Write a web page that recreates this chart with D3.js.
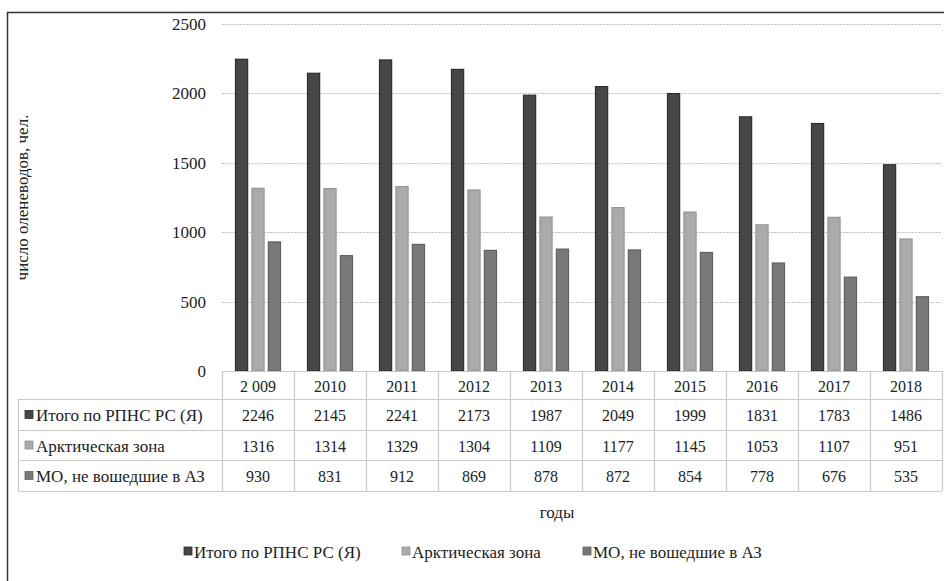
<!DOCTYPE html>
<html>
<head>
<meta charset="utf-8">
<script src="https://cdn.jsdelivr.net/npm/d3@7"></script>
</head>
<body style="margin:0">
<svg id="chart" width="944" height="581" style="display:block;font-family:'Liberation Serif'"></svg>
<script>
const years = ["2 009", "2010", "2011", "2012", "2013", "2014", "2015", "2016", "2017", "2018"];
const seriesNames = ["Итого по РПНС РС (Я)", "Арктическая зона", "МО, не вошедшие в АЗ"];
const totalRPNS = [2246, 2145, 2241, 2173, 1987, 2049, 1999, 1831, 1783, 1486];
const arcticZone = [1316, 1314, 1329, 1304, 1109, 1177, 1145, 1053, 1107, 951];
const notInAZ = [930, 831, 912, 869, 878, 872, 854, 778, 676, 535];
const yTicks = [0, 500, 1000, 1500, 2000, 2500];
const yTitle = "число оленеводов, чел.";
const xTitle = "годы";

const seriesValues = [totalRPNS, arcticZone, notInAZ];
const fills = ["#474747", "#aaaaaa", "#797979"];
const strokes = ["#2e2e2e", "#959595", "#606060"];
const NUM = 16;
const LAB = 17;

const svg = d3.select("#chart");
function styleText(sel, size) {
  return sel.style("font-family", "Liberation Serif").attr("font-size", size).attr("fill", "#222");
}

// frame (cropped: only top and left visible)
svg.append("line").attr("x1", 7).attr("x2", 944).attr("y1", 12.5).attr("y2", 12.5)
  .attr("stroke", "#333").attr("stroke-width", 1.5);
svg.append("line").attr("x1", 7.5).attr("x2", 7.5).attr("y1", 12).attr("y2", 581)
  .attr("stroke", "#333").attr("stroke-width", 1.5);

const x = d3.scaleBand().domain(years).range([222, 942]).padding(0);
const x1 = d3.scaleBand().domain(d3.range(seriesNames.length)).range([13, 59]).paddingInner(0.2);
const y = d3.scaleLinear().domain([0, 2500]).range([371, 24]);

// gridlines
svg.append("g").selectAll("line").data(yTicks.filter(d => d > 0)).join("line")
  .attr("x1", 222).attr("x2", 942)
  .attr("y1", d => Math.round(y(d)) + 0.5).attr("y2", d => Math.round(y(d)) + 0.5)
  .attr("stroke", "#c4c4c4").attr("stroke-width", 1).attr("stroke-dasharray", "2,1");

// y tick labels
const yAxis = d3.axisLeft(y).tickValues(yTicks).tickFormat(d3.format("d")).tickSize(0).tickPadding(0);
const gy = svg.append("g").attr("transform", "translate(206,0)").call(yAxis)
  .attr("font-family", null).attr("font-size", null);
gy.select(".domain").remove();
styleText(gy.selectAll("text"), LAB);

// bars
const groups = svg.append("g").selectAll("g").data(years).join("g")
  .attr("transform", d => `translate(${x(d)},0)`);
groups.selectAll("rect").data((d, i) => seriesValues.map((vals, s) => ({ s, v: vals[i] }))).join("rect")
  .attr("x", d => x1(d.s) + 0.5)
  .attr("y", d => y(d.v))
  .attr("width", x1.bandwidth() - 1)
  .attr("height", d => y(0) - y(d.v))
  .attr("fill", d => fills[d.s])
  .attr("stroke", d => strokes[d.s])
  .attr("stroke-width", 1.2);

// y title
styleText(svg.append("text")
  .attr("transform", `translate(22,${(24 + 371) / 2}) rotate(-90)`)
  .attr("text-anchor", "middle")
  .attr("dominant-baseline", "central")
  .text(yTitle), LAB);

// data table
const rowEdges = [371, 399, 430, 460, 491];
const tableLeft = 18;
const gridColor = "#c8c8c8";
const tbl = svg.append("g");
tbl.selectAll("line.h").data(rowEdges).join("line").attr("class", "h")
  .attr("x1", (d, i) => i === 0 ? 222 : tableLeft).attr("x2", 942)
  .attr("y1", d => d + 0.5).attr("y2", d => d + 0.5)
  .attr("stroke", gridColor).attr("stroke-width", 1.2);
const vx = years.map(d => x(d)).concat([x.range()[1]]);
tbl.selectAll("line.v").data(vx).join("line").attr("class", "v")
  .attr("x1", d => d + 0.5).attr("x2", d => d + 0.5)
  .attr("y1", rowEdges[0]).attr("y2", rowEdges[4])
  .attr("stroke", gridColor).attr("stroke-width", 1.2);
tbl.append("line").attr("x1", tableLeft + 0.5).attr("x2", tableLeft + 0.5)
  .attr("y1", rowEdges[1]).attr("y2", rowEdges[4]).attr("stroke", gridColor).attr("stroke-width", 1.2);

styleText(tbl.selectAll("text.yr").data(years).join("text").attr("class", "yr")
  .attr("x", d => x(d) + x.bandwidth() / 2)
  .attr("y", (rowEdges[0] + rowEdges[1]) / 2 + 1)
  .attr("text-anchor", "middle").attr("dominant-baseline", "central")
  .text(d => d), NUM);

seriesNames.forEach((name, s) => {
  const cy = (rowEdges[s + 1] + rowEdges[s + 2]) / 2 + 1;
  tbl.append("rect").attr("x", 25).attr("y", cy - 5).attr("width", 8).attr("height", 8)
    .attr("fill", fills[s]).attr("stroke", strokes[s]).attr("stroke-width", 0.8);
  styleText(tbl.append("text").attr("x", 36).attr("y", cy)
    .attr("dominant-baseline", "central").text(name), LAB);
  styleText(tbl.selectAll(null).data(seriesValues[s]).join("text")
    .attr("x", (d, i) => x(years[i]) + x.bandwidth() / 2)
    .attr("y", cy)
    .attr("text-anchor", "middle").attr("dominant-baseline", "central")
    .text(d => d), NUM);
});

// x title
styleText(svg.append("text").attr("x", 557).attr("y", 512)
  .attr("text-anchor", "middle").attr("dominant-baseline", "central")
  .text(xTitle), LAB);

// legend
const legendX = [184, 402, 583];
const lg = svg.append("g").selectAll("g").data(seriesNames).join("g")
  .attr("transform", (d, i) => `translate(${legendX[i]},552)`);
lg.append("rect").attr("x", 0).attr("y", -5).attr("width", 8).attr("height", 8)
  .attr("fill", (d, i) => fills[i]).attr("stroke", (d, i) => strokes[i]).attr("stroke-width", 0.8);
styleText(lg.append("text").attr("x", 10).attr("y", 0)
  .attr("dominant-baseline", "central").text(d => d), LAB);
</script>
</body>
</html>
